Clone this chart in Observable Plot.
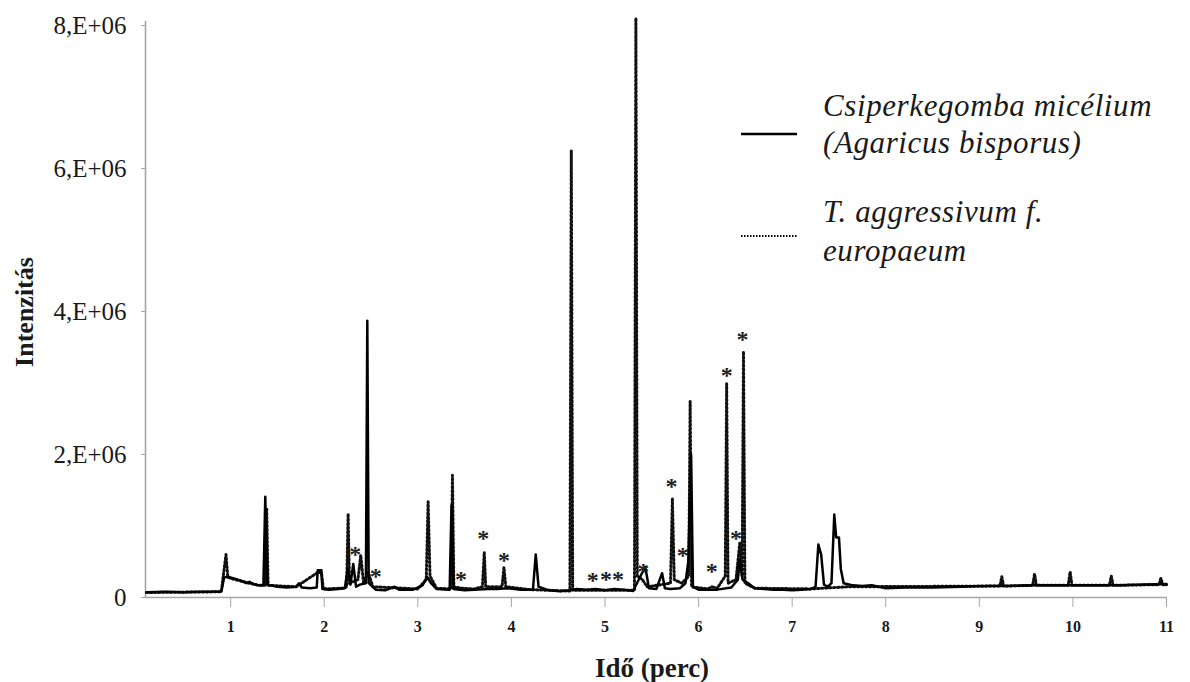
<!DOCTYPE html>
<html>
<head>
<meta charset="utf-8">
<script src="https://cdn.jsdelivr.net/npm/d3@7"></script>
<script src="https://cdn.jsdelivr.net/npm/@observablehq/plot@0.6"></script>
<style>
  html, body { margin: 0; padding: 0; background: #fff; }
  #chart svg { display: block; }
  #chart text { font-family: "Liberation Serif", "Times New Roman", serif; }
</style>
</head>
<body>
<div id="chart"></div>
<script>
// ---- data: [time (perc), intensity] ----
const agaricusTrace = [
  [0.10,75000],[0.30,80000],[0.50,75000],[0.70,80000],[0.90,85000],[0.93,280000],[0.97,290000],
  [1.05,260000],[1.12,230000],[1.17,200000],[1.20,220000],[1.24,190000],[1.30,170000],[1.35,170000],
  [1.37,1410000],[1.39,180000],[1.50,150000],[1.60,140000],[1.70,150000],[1.73,200000],[1.76,140000],
  [1.85,130000],[1.92,140000],[1.93,380000],[1.97,380000],[1.98,120000],[2.05,110000],[2.15,120000],
  [2.22,130000],[2.25,400000],[2.28,180000],[2.31,470000],[2.34,150000],[2.38,180000],[2.445,200000],
  [2.46,3870000],[2.475,200000],[2.55,110000],[2.65,100000],[2.75,150000],[2.80,110000],[2.95,110000],
  [3.05,170000],[3.10,290000],[3.14,200000],[3.20,120000],[3.34,110000],[3.36,1290000],[3.38,120000],
  [3.50,100000],[3.60,110000],[3.75,120000],[3.85,120000],[3.95,130000],[4.10,110000],[4.23,110000],
  [4.26,600000],[4.29,150000],[4.40,100000],[4.52,88000],[4.62,100000],[4.70,120000],[4.80,110000],
  [4.90,120000],[5.00,100000],[5.10,120000],[5.20,110000],[5.30,90000],[5.38,300000],[5.43,430000],
  [5.47,130000],[5.55,120000],[5.61,340000],[5.64,130000],[5.70,120000],[5.80,130000],[5.86,200000],
  [5.89,500000],[5.92,2000000],[5.94,150000],[6.00,110000],[6.10,110000],[6.20,110000],[6.35,140000],
  [6.42,250000],[6.44,520000],[6.47,250000],[6.55,180000],[6.60,130000],[6.70,120000],[6.80,110000],
  [6.90,110000],[7.00,100000],[7.10,110000],[7.20,120000],[7.25,150000],[7.28,740000],[7.31,600000],
  [7.34,180000],[7.38,150000],[7.42,200000],[7.45,1160000],[7.47,840000],[7.50,840000],[7.52,400000],
  [7.55,200000],[7.65,170000],[7.75,160000],[7.85,170000],[8.00,130000],[8.20,140000],[8.50,140000],
  [8.80,150000],[9.00,160000],[9.30,160000],[9.60,170000],[10.00,170000],[10.50,170000],[11.00,190000]
];

const trichodermaTrace = [
  [0.10,70000],[0.90,80000],[0.95,600000],[0.97,280000],[1.05,250000],[1.20,200000],[1.30,170000],
  [1.37,170000],[1.385,1250000],[1.40,170000],[1.70,150000],[1.93,350000],[1.97,350000],[1.99,120000],[2.20,130000],
  [2.24,150000],[2.255,1170000],[2.27,200000],[2.36,250000],[2.39,590000],[2.42,200000],[2.47,350000],[2.52,150000],
  [3.00,120000],[3.09,250000],[3.11,1340000],[3.13,300000],[3.20,130000],[3.355,120000],[3.37,1710000],
  [3.385,150000],[3.46,130000],[3.60,120000],[3.69,150000],[3.71,630000],[3.725,150000],[3.90,150000],
  [3.92,420000],[3.94,150000],[4.20,110000],[4.625,90000],[4.64,6250000],[4.655,100000],[5.315,100000],
  [5.33,8100000],[5.345,300000],[5.40,250000],[5.45,150000],[5.70,200000],[5.72,1380000],[5.74,250000],
  [5.82,200000],[5.86,250000],[5.895,300000],[5.91,2740000],[5.925,150000],[6.10,120000],[6.14,150000],
  [6.20,130000],[6.285,300000],[6.30,2990000],[6.315,200000],[6.40,250000],[6.44,760000],[6.465,300000],
  [6.48,3440000],[6.495,200000],[6.60,130000],[7.20,120000],[7.60,150000],[9.22,160000],[9.24,290000],
  [9.26,160000],[9.57,170000],[9.59,330000],[9.61,170000],[9.95,170000],[9.97,360000],[9.99,170000],
  [10.39,170000],[10.41,300000],[10.43,170000],[10.92,180000],[10.94,270000],[10.96,180000],[11.00,180000]
];

// asterisk marks (centre position in data units)
const asteriskTime      = [2.33, 2.55, 3.46, 3.70, 3.92, 4.87, 5.01, 5.14, 5.41, 5.71, 5.83, 6.14, 6.30, 6.40, 6.47];
const asteriskIntensity = [660000, 350000, 310000, 880000, 580000, 290000, 310000, 310000, 420000, 1610000, 650000, 420000, 3160000, 890000, 3670000];

const xTickValues = [1, 2, 3, 4, 5, 6, 7, 8, 9, 10, 11];
const yTickValues = [0, 2000000, 4000000, 6000000, 8000000];
const seriesLabels = [["Csiperkegomba micélium", "(Agaricus bisporus)"], ["T. aggressivum f.", "europaeum"]];
const xTitle = "Idő (perc)";
const yTitle = "Intenzitás";

// ---- build tables ----
const solidData = agaricusTrace.map(([t, v]) => ({t, v}));
const dottedData = trichodermaTrace.map(([t, v]) => ({t, v}));
const stars = asteriskTime.map((t, i) => ({t, v: asteriskIntensity[i]}));

const axisGray = "#a6a6a6";
const serif = "'Liberation Serif', 'Times New Roman', serif";

const chart = Plot.plot({
  width: 1190,
  height: 682,
  marginLeft: 145,
  marginRight: 24,
  marginTop: 25,
  marginBottom: 85,
  style: {fontFamily: serif, background: "#fff", color: "#1a1a1a"},
  x: {domain: [0.09, 11]},
  y: {domain: [0, 8000000]},
  marks: [
    Plot.ruleY([0], {stroke: axisGray, strokeWidth: 1.6}),
    Plot.ruleX([0.09], {y1: 0, y2: 8060000, stroke: axisGray, strokeWidth: 1.6}),
    Plot.axisY({
      ticks: yTickValues,
      tickFormat: d => d === 0 ? "0" : `${d / 1e6},E+06`,
      tickSize: 4, tickPadding: 15, fontSize: 25, stroke: axisGray, label: null
    }),
    Plot.axisX({
      ticks: xTickValues, tickFormat: d => String(d),
      tickSize: 10, tickPadding: 13, fontSize: 16, fontWeight: "bold", stroke: axisGray, label: null
    }),
    Plot.line(dottedData, {x: "t", y: "v", stroke: "#111", strokeWidth: 3, strokeDasharray: "1.5,2.5"}),
    Plot.line(solidData, {x: "t", y: "v", stroke: "#000", strokeWidth: 2.5}),
    Plot.text(stars, {x: "t", y: "v", text: () => "*", fontSize: 24, fontWeight: "bold", fill: "#222", dy: 4})
  ]
});

document.getElementById("chart").appendChild(chart);

// ---- axis titles and legend ----
const svg = d3.select(chart);
svg.append("text")
  .attr("x", 652).attr("y", 677)
  .attr("text-anchor", "middle")
  .attr("font-size", 27).attr("font-weight", "bold").attr("fill", "#1a1a1a")
  .text(xTitle);
svg.append("text")
  .attr("transform", "translate(33,312) rotate(-90)")
  .attr("text-anchor", "middle")
  .attr("font-size", 26).attr("font-weight", "bold").attr("fill", "#1a1a1a")
  .text(yTitle);

const legend = svg.append("g");
const legendRows = [
  {lineY: 134, textY: [116, 153], dash: null, width: 2.5},
  {lineY: 236, textY: [222, 261], dash: "1.5,1.5", width: 2}
];
legendRows.forEach((row, i) => {
  const ln = legend.append("line")
    .attr("x1", 741).attr("x2", 797).attr("y1", row.lineY).attr("y2", row.lineY)
    .attr("stroke", "#000").attr("stroke-width", row.width);
  if (row.dash) ln.attr("stroke-dasharray", row.dash);
  seriesLabels[i].forEach((s, j) => {
    legend.append("text")
      .attr("x", 823).attr("y", row.textY[j])
      .attr("text-anchor", "start")
      .attr("font-size", 31).attr("font-style", "italic").attr("letter-spacing", 0.6).attr("fill", "#1a1a1a")
      .text(s);
  });
});
</script>
</body>
</html>
